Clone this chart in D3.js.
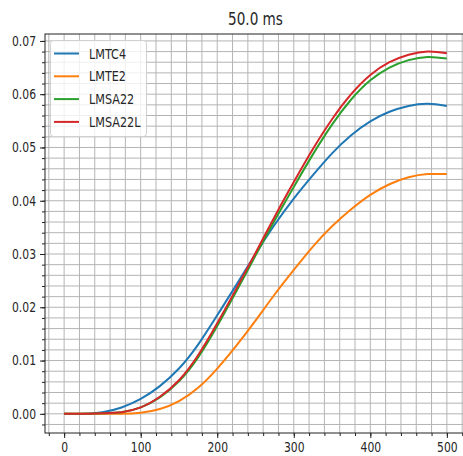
<!DOCTYPE html>
<html>
<head>
<meta charset="utf-8">
<script src="https://cdn.jsdelivr.net/npm/d3@7"></script>
<style>
  body { margin: 0; background: #fff; }
  text { font-family: "DejaVu Sans", sans-serif; fill: #262626; }
</style>
</head>
<body>
<div id="chart"></div>
<script>
// Data (x in samples, y in units)
var xs = [0, 25, 50, 75, 100, 125, 150, 175, 200, 225, 250, 275, 300, 325, 350, 375, 400, 425, 450, 475, 500];
var lmtc4 = [0, 0.0000, 0.0003, 0.0012, 0.0028, 0.0052, 0.0085, 0.0130, 0.0185, 0.0242, 0.0300, 0.0355, 0.0404, 0.0448, 0.0489, 0.0523, 0.0549, 0.0567, 0.0578, 0.0582, 0.0578];
var lmte2 = [0, 0.0000, 0.0000, 0.0000, 0.0002, 0.0009, 0.0024, 0.0049, 0.0085, 0.0128, 0.0175, 0.0224, 0.0270, 0.0314, 0.0352, 0.0384, 0.0411, 0.0431, 0.0444, 0.0450, 0.0450];
var lmsa22 = [0, 0.0000, 0.0001, 0.0003, 0.0012, 0.0031, 0.0061, 0.0106, 0.0165, 0.0230, 0.0297, 0.0363, 0.0426, 0.0487, 0.0543, 0.0590, 0.0626, 0.0650, 0.0664, 0.0670, 0.0667];
var lmsa22l = [0, 0.0000, 0.0001, 0.0003, 0.0012, 0.0032, 0.0063, 0.0110, 0.0170, 0.0235, 0.0302, 0.0370, 0.0435, 0.0497, 0.0553, 0.0600, 0.0636, 0.0660, 0.0674, 0.0680, 0.0677];
var names = ["LMTC4", "LMTE2", "LMSA22", "LMSA22L"];
var colors = ["#1f77b4", "#ff7f0e", "#2ca02c", "#d62728"];
var xTicks = [0, 100, 200, 300, 400, 500];
var yTicks = [0, 0.01, 0.02, 0.03, 0.04, 0.05, 0.06, 0.07];
var title = "50.0 ms";

var series = [lmtc4, lmte2, lmsa22, lmsa22l];

var W = 463, H = 456;
var pLeft = 45, pRight = 466, pTop = 34, pBottom = 433;

var svg = d3.select("#chart").append("svg")
    .attr("width", W)
    .attr("height", H);

svg.append("rect").attr("width", W).attr("height", H).attr("fill", "#fff");

var x = d3.scaleLinear().domain([-25, 525]).range([pLeft, pRight]);
var y = d3.scaleLinear().domain([-0.0036, 0.0713]).range([pBottom, pTop]);

var xMinor = d3.range(-20, 521, 20);
var yMinor = d3.range(-1, 36).map(function (k) { return k * 0.002; });

// squash text horizontally, the source picture is narrow
function squeeze(sel, k) {
    sel.each(function () {
        var w = this.getComputedTextLength();
        d3.select(this).attr("textLength", w * k).attr("lengthAdjust", "spacingAndGlyphs");
    });
}

// grid on every minor step
var grid = svg.append("g");
grid.selectAll(".vg").data(xMinor).enter().append("line")
    .attr("x1", function (d) { return x(d); })
    .attr("x2", function (d) { return x(d); })
    .attr("y1", pTop).attr("y2", pBottom)
    .attr("stroke", "#b4b4b4").attr("stroke-width", 1);
grid.selectAll(".hg").data(yMinor).enter().append("line")
    .attr("y1", function (d) { return y(d); })
    .attr("y2", function (d) { return y(d); })
    .attr("x1", pLeft).attr("x2", pRight)
    .attr("stroke", "#b4b4b4").attr("stroke-width", 1);

// curves
var line = d3.line()
    .x(function (d, i) { return x(xs[i]); })
    .y(function (d) { return y(d); })
    .curve(d3.curveNatural);

svg.selectAll(".curve").data(series).enter().append("path")
    .attr("d", function (d) { return line(d); })
    .attr("fill", "none")
    .attr("stroke", function (d, i) { return colors[i]; })
    .attr("stroke-width", 2);

// spines
svg.append("rect")
    .attr("x", pLeft).attr("y", pTop)
    .attr("width", pRight - pLeft).attr("height", pBottom - pTop)
    .attr("fill", "none").attr("stroke", "#222").attr("stroke-width", 1);

// axes
var xAxis = svg.append("g")
    .attr("transform", "translate(0," + pBottom + ")")
    .call(d3.axisBottom(x).tickValues(xTicks).tickSize(5).tickPadding(4));
var xAxisMinor = svg.append("g")
    .attr("transform", "translate(0," + pBottom + ")")
    .call(d3.axisBottom(x).tickValues(xMinor).tickSize(3).tickFormat(""));
var yAxis = svg.append("g")
    .attr("transform", "translate(" + pLeft + ",0)")
    .call(d3.axisLeft(y).tickValues(yTicks).tickSize(5).tickPadding(4).tickFormat(d3.format(".2f")));
var yAxisMinor = svg.append("g")
    .attr("transform", "translate(" + pLeft + ",0)")
    .call(d3.axisLeft(y).tickValues(yMinor).tickSize(3).tickFormat(""));

[xAxis, xAxisMinor, yAxis, yAxisMinor].forEach(function (a) {
    a.select(".domain").remove();
    a.selectAll("line").attr("stroke", "#222");
});
xAxis.selectAll("text").attr("font-size", 13.5).attr("font-family", "DejaVu Sans").attr("fill", "#262626");
yAxis.selectAll("text").attr("font-size", 13.5).attr("font-family", "DejaVu Sans").attr("fill", "#262626");
squeeze(xAxis.selectAll("text"), 0.8);
squeeze(yAxis.selectAll("text"), 0.8);

// title
var t = svg.append("text")
    .attr("x", (pLeft + pRight) / 2).attr("y", 25)
    .attr("text-anchor", "middle")
    .attr("font-size", 17)
    .text(title);
squeeze(t, 0.8);

// legend
var legend = svg.append("g");
legend.append("rect")
    .attr("x", 50.5).attr("y", 40.5)
    .attr("width", 96).attr("height", 96)
    .attr("rx", 3)
    .attr("fill", "#fff").attr("fill-opacity", 0.8)
    .attr("stroke", "#d0d0d0");
var rows = legend.selectAll(".row").data(names).enter().append("g")
    .attr("transform", function (d, i) { return "translate(0," + (53.5 + i * 22.8) + ")"; });
rows.append("line")
    .attr("x1", 54).attr("x2", 79)
    .attr("stroke", function (d, i) { return colors[i]; })
    .attr("stroke-width", 2);
var lt = rows.append("text")
    .attr("x", 89).attr("y", 5)
    .attr("font-size", 13.5)
    .text(function (d) { return d; });
squeeze(lt, 0.83);
</script>
</body>
</html>
